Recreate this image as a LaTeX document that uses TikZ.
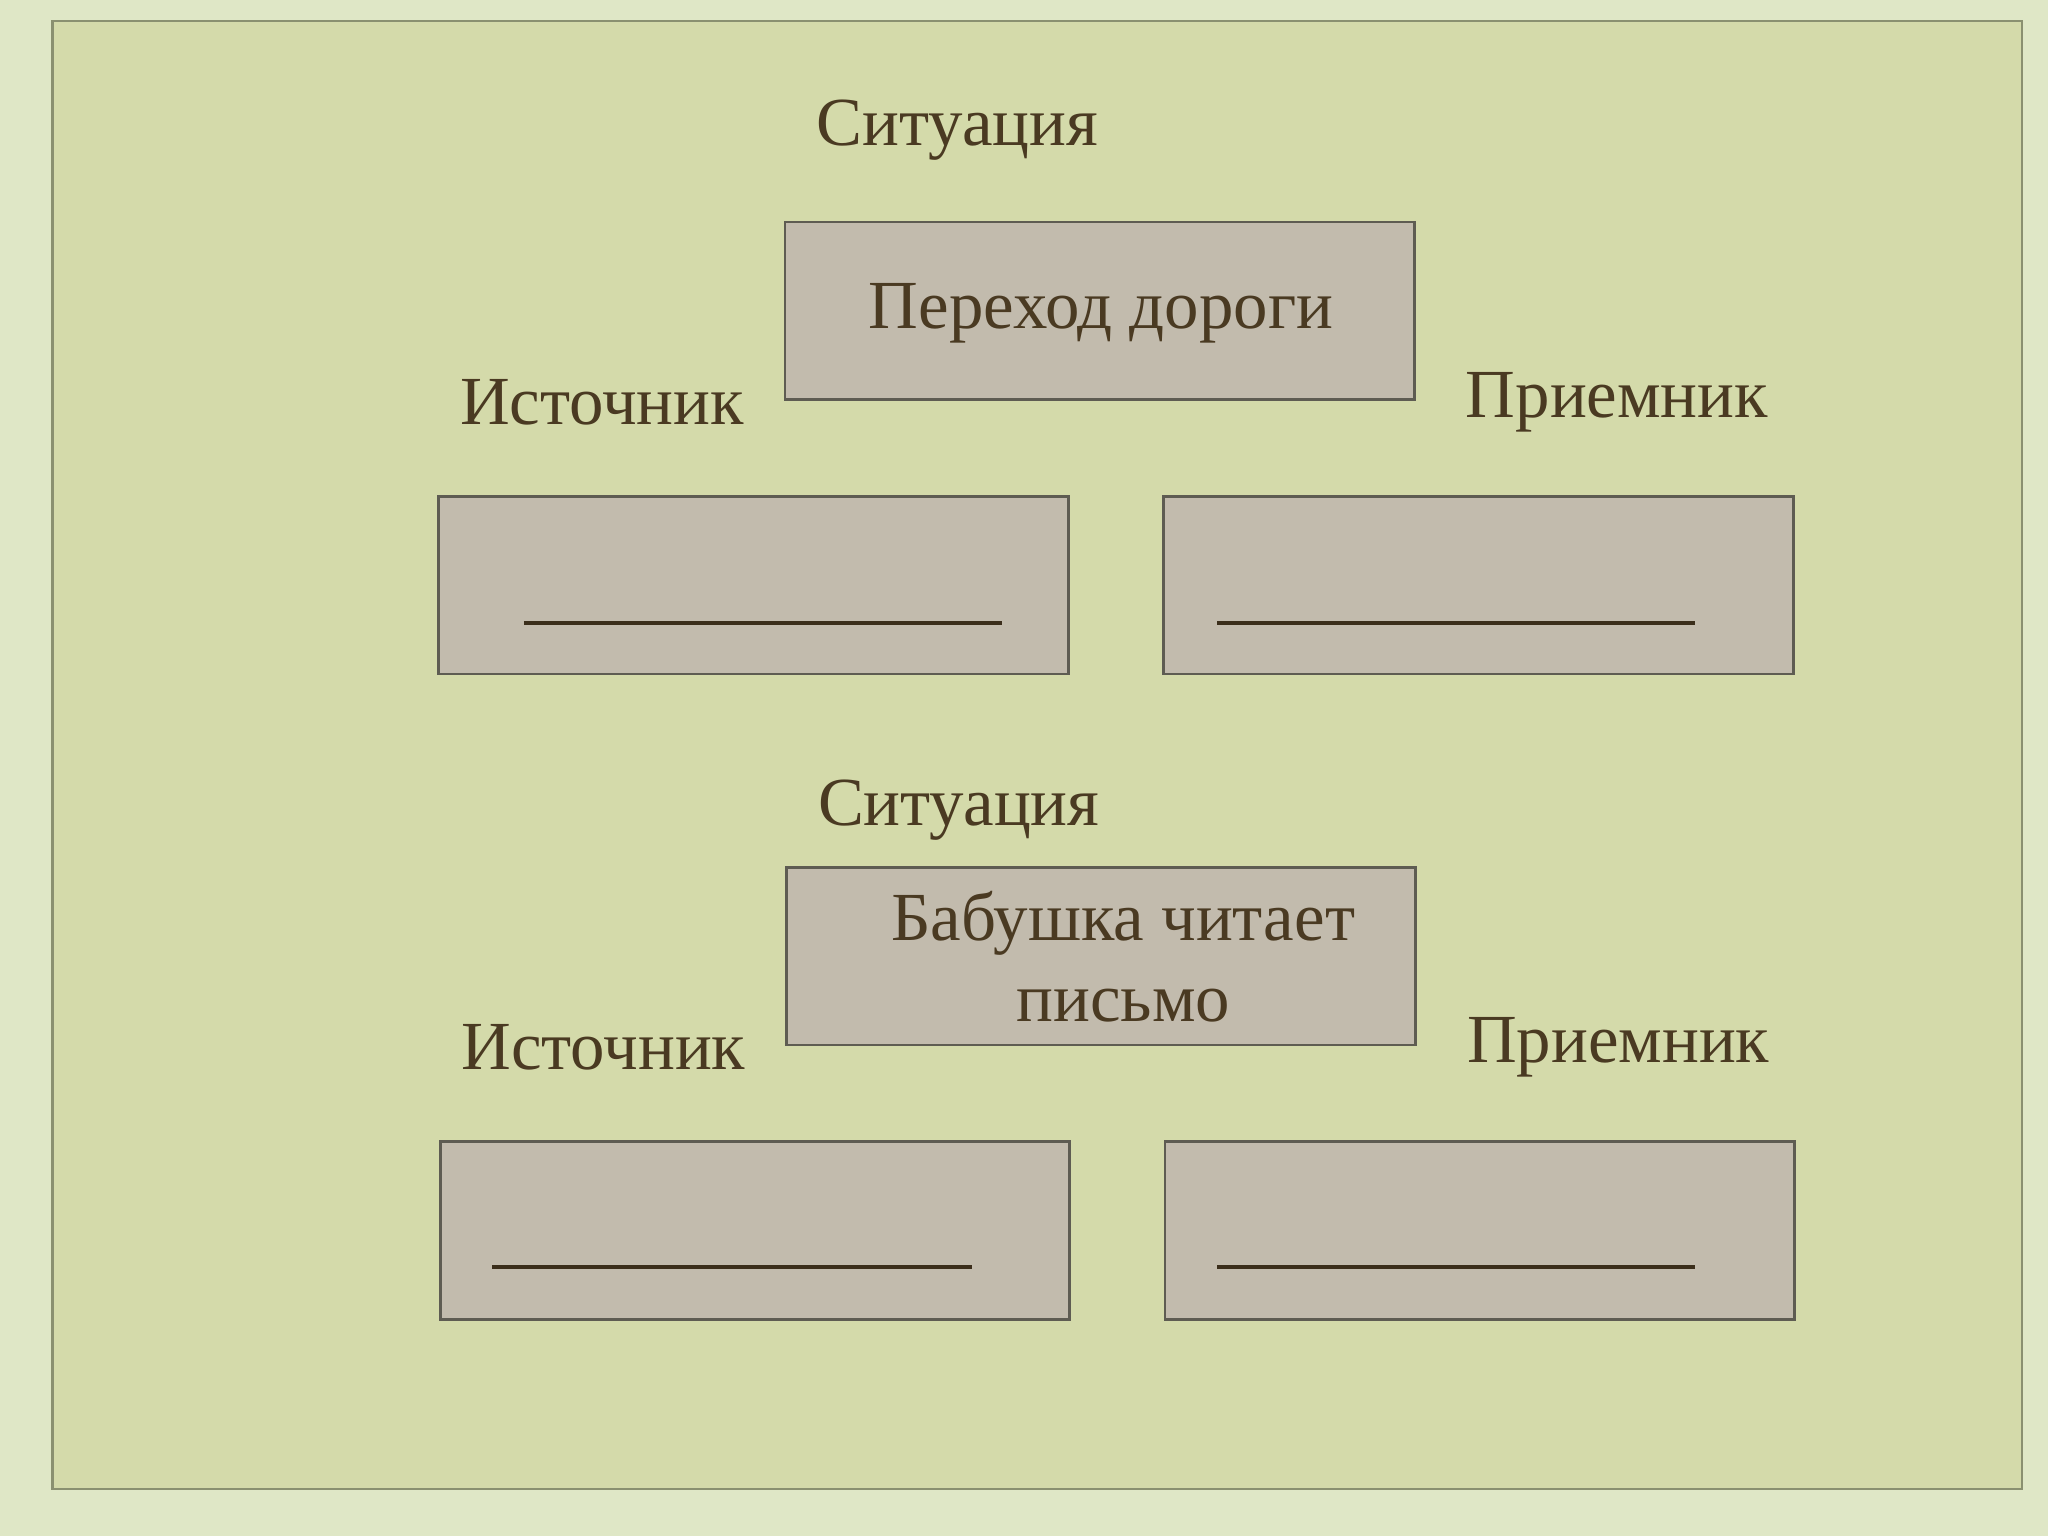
\documentclass[tikz,border=0pt]{standalone}
\usepackage{fontspec}
\setmainfont{Liberation Serif}
\definecolor{bgout}{HTML}{DFE7C6}
\definecolor{bgin}{HTML}{D4DAAA}
\definecolor{frame}{HTML}{8A9070}
\definecolor{boxf}{HTML}{C2BBAD}
\definecolor{boxd}{HTML}{5E5C52}
\definecolor{txt}{HTML}{4A3A22}
\begin{document}
\begin{tikzpicture}[x=0.02cm,y=-0.02cm,
  bx/.style={fill=boxf,draw=boxd,line width=1.2pt},
  lbl/.style={text=txt,font=\fontsize{30}{36}\selectfont,inner sep=0pt},
  uline/.style={draw=txt!80!black,line width=1.5pt}]
\useasboundingbox (0,0) rectangle (1568,1176);
\fill[bgout] (0,0) rectangle (1568,1176);
\draw[fill=bgin,draw=frame,line width=1.2pt] (40,16) rectangle (1548,1140);
% top
\node[lbl] (s1) at (733,100) {Ситуация};
\draw[bx] (601,170) rectangle (1083,306);
\node[lbl] (b1) at (843,240) {Переход дороги};
\node[lbl] (i1) at (461,308) {Источник};
\node[lbl] (p1) at (1238,308) {Приемник};
\draw[bx] (336,380) rectangle (818,516);
\draw[bx] (891,380) rectangle (1373,516);
\coordinate (a1) at (401,477); \coordinate (a2) at (767,477);
\coordinate (a3) at (932,477); \coordinate (a4) at (1298,477);
\draw[uline] (a1) -- (a2); \draw[uline] (a3) -- (a4);
% bottom
\node[lbl] (s2) at (734,620) {Ситуация};
\draw[bx] (602,664) rectangle (1084,800);
\node[lbl] (b2a) at (860,707) {Бабушка читает};
\node[lbl] (b2b) at (860,770) {письмо};
\node[lbl] (i2) at (462,802) {Источник};
\node[lbl] (p2) at (1239,802) {Приемник};
\draw[bx] (337,874) rectangle (819,1010);
\draw[bx] (892,874) rectangle (1374,1010);
\coordinate (c1) at (377,970); \coordinate (c2) at (744,970);
\coordinate (c3) at (932,970); \coordinate (c4) at (1298,970);
\draw[uline] (c1) -- (c2); \draw[uline] (c3) -- (c4);
\end{tikzpicture}
\end{document}
